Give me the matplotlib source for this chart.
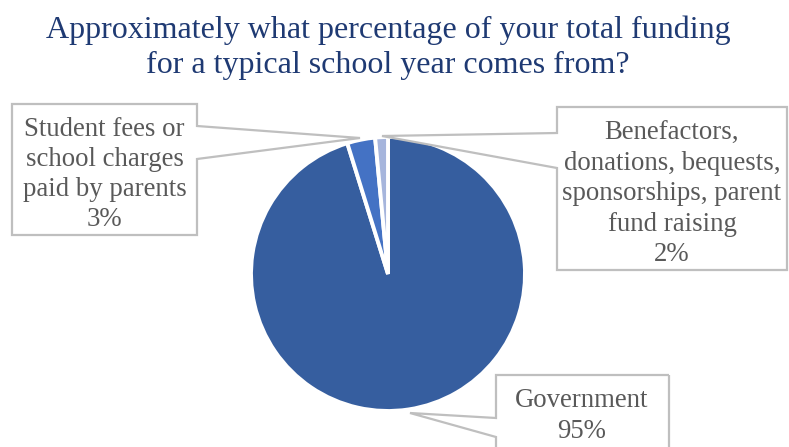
import matplotlib.pyplot as plt
from matplotlib.patches import Polygon

# data
categories = ["Government",
              "Student fees or\nschool charges\npaid by parents",
              "Benefactors,\ndonations, bequests,\nsponsorships, parent\nfund raising"]
shares = [95.2, 3.3, 1.5]
colors = ["#365E9F", "#4472C4", "#A6B5DC"]

title = "Approximately what percentage of your total funding\nfor a typical school year comes from?"

W, H = 789, 447
fig = plt.figure(figsize=(W / 100, H / 100), dpi=100)
ax = fig.add_axes([0, 0, 1, 1])

# y axis is inverted below, so counterclock in data space runs clockwise on screen
wedges, _ = ax.pie(shares, colors=colors, startangle=-90, counterclock=True,
                   center=(388, 274), radius=137, frame=True,
                   wedgeprops=dict(edgecolor="white", linewidth=2.8))
ax.set_xlim(0, W)
ax.set_ylim(H, 0)  # pixel coordinates, y down
ax.set_aspect("equal")
ax.axis("off")

ax.text(388, 48, title, ha="center", va="center", fontsize=23,
        family="Liberation Serif", color="#1F3A73", linespacing=1.25)


def callout(box, side, a, b, tip, text, tx, ty):
    x0, y0, x1, y1 = box
    if side == "right":
        pts = [(x0, y0), (x1, y0), (x1, a), tip, (x1, b), (x1, y1), (x0, y1)]
    else:
        pts = [(x1, y0), (x1, y1), (x0, y1), (x0, b), tip, (x0, a), (x0, y0)]
    ax.add_patch(Polygon(pts, closed=True, facecolor="none",
                         edgecolor="#BFBFBF", linewidth=1.6, zorder=5))
    ax.text(tx, ty, text, ha="center", va="center", fontsize=19.3,
            family="Liberation Serif", color="#595959", linespacing=1.27,
            zorder=6)


def pct(v):
    return f"{round(v)}%"


callout((12, 104, 197, 235), "right", 126, 159, (360, 138),
        categories[1] + "\n" + pct(shares[1]), 104.5, 174.5)
callout((557, 107, 787, 270), "left", 133, 168, (382, 136),
        categories[2] + "\n" + pct(shares[2]), 672, 194)
callout((496, 375, 669, 470), "left", 418, 437, (410, 413),
        categories[0] + "\n" + pct(shares[0]), 582, 416)

fig.savefig("out.png", dpi=100)
